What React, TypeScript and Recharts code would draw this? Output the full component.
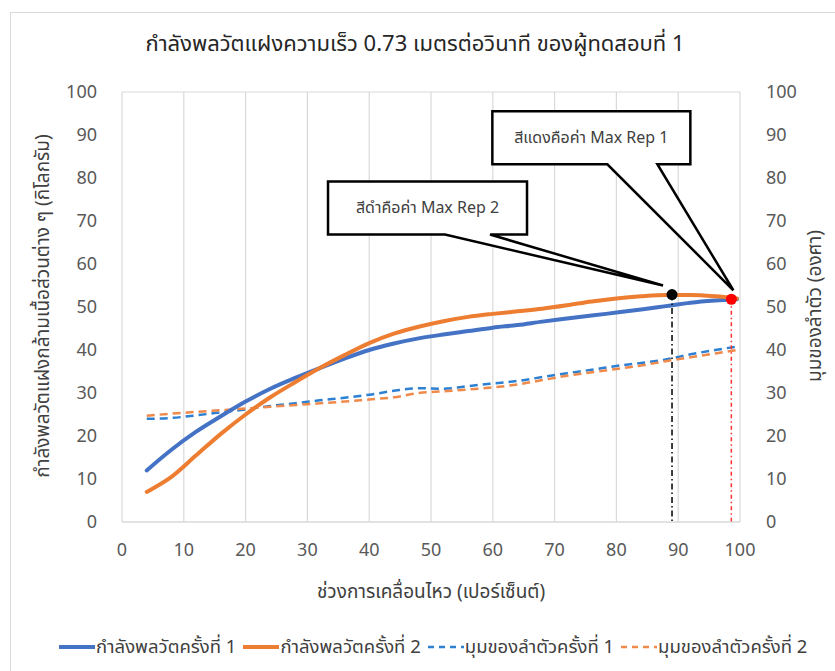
import {
  ComposedChart,
  Line,
  XAxis,
  YAxis,
  CartesianGrid,
  ReferenceDot,
  ReferenceLine,
} from "recharts";

// motion range (%) for each sampled point
const motionPct = [4, 8, 12, 16, 20, 24, 28, 32, 36, 40, 44, 48, 52, 56, 60, 64, 68, 72, 76, 80, 84, 88, 92, 96, 99.5];

// dynamic power (kg), left axis
const power1 = [12, 16.8, 21, 24.6, 28, 31, 33.5, 35.8, 38, 40, 41.5, 42.7, 43.6, 44.4, 45.2, 45.8, 46.6, 47.3, 48, 48.7, 49.4, 50.2, 51, 51.5, 51.8];
const power2 = [7, 10.5, 15.5, 20.5, 25, 29, 32.5, 35.8, 38.8, 41.6, 43.8, 45.4, 46.7, 47.7, 48.4, 49, 49.6, 50.4, 51.3, 52, 52.5, 52.8, 52.8, 52.5, 52];

// trunk angle (degrees), right axis
const angle1 = [24, 24.2, 24.8, 25.5, 26.2, 27, 27.6, 28.3, 28.9, 29.6, 30.5, 31.1, 31, 31.6, 32.2, 32.8, 33.7, 34.6, 35.4, 36.3, 37, 37.8, 39, 40, 40.8];
const angle2 = [24.7, 25.2, 25.6, 26, 26.4, 26.8, 27.2, 27.6, 28, 28.5, 29, 30, 30.4, 30.8, 31.3, 32, 33, 34, 34.8, 35.6, 36.4, 37.4, 38.3, 39.2, 40];

const ticks = [0, 10, 20, 30, 40, 50, 60, 70, 80, 90, 100];

// max rep markers
const maxRep1 = { x: 98.6, y: 51.8 };
const maxRep2 = { x: 89, y: 52.9 };

const data = motionPct.map((x, i) => ({
  x,
  power1: power1[i],
  power2: power2[i],
  angle1: angle1[i],
  angle2: angle2[i],
}));

const FONT = "Tahoma, 'Noto Sans Thai', 'Noto Sans', 'DejaVu Sans', sans-serif";
const TICK = { fill: "#595959", fontSize: 18, fontFamily: FONT };

// callout box + pointer drawn relative to the marker
function makeCallout(label: string, box: { l: number; r: number; t: number; b: number; p1: number; p2: number; tx: number; ty: number }, color: string) {
  return (props: any) => {
    const { cx, cy } = props;
    const pts = [
      [box.l, box.t],
      [box.r, box.t],
      [box.r, box.b],
      [box.p2, box.b],
      [box.tx, box.ty],
      [box.p1, box.b],
      [box.l, box.b],
    ]
      .map(([dx, dy]) => `${cx + dx},${cy + dy}`)
      .join(" ");
    return (
      <g>
        <polygon points={pts} fill="#fff" stroke="#000" strokeWidth={2.5} strokeLinejoin="miter" />
        <text
          x={cx + (box.l + box.r) / 2}
          y={cy + (box.t + box.b) / 2}
          textAnchor="middle"
          dominantBaseline="central"
          fill="#404040"
          fontSize={16}
          fontFamily={FONT}
        >
          {label}
        </text>
        <circle cx={cx} cy={cy} r={5.5} fill={color} />
      </g>
    );
  };
}

const legendItems = [
  { label: "กำลังพลวัตครั้งที่ 1", color: "#4472c4", dashed: false },
  { label: "กำลังพลวัตครั้งที่ 2", color: "#ed7d31", dashed: false },
  { label: "มุมของลำตัวครั้งที่ 1", color: "#2e80d2", dashed: true },
  { label: "มุมของลำตัวครั้งที่ 2", color: "#f08a4b", dashed: true },
];

export default function App() {
  return (
    <div style={{ position: "absolute", left: 0, top: 0, width: 835, height: 671, background: "#fff", fontFamily: FONT }}>
      {/* frame */}
      <div style={{ position: "absolute", left: 10, top: 12, right: 0, bottom: 0, borderLeft: "1px solid #d9d9d9", borderTop: "1px solid #d9d9d9" }} />

      <div style={{ position: "absolute", left: 0, width: 830, top: 28, textAlign: "center", fontSize: 22, color: "#262626" }}>
        กำลังพลวัตแฝงความเร็ว 0.73 เมตรต่อวินาที ของผู้ทดสอบที่ 1
      </div>

      <ComposedChart
        width={835}
        height={671}
        data={data}
        margin={{ top: 92, right: 0, left: 0, bottom: 119 }}
        style={{ position: "absolute", left: 0, top: 0 }}
      >
        <CartesianGrid stroke="#d9d9d9" strokeWidth={1.2} />
        <XAxis
          dataKey="x"
          type="number"
          domain={[0, 100]}
          ticks={ticks}
          height={30}
          tick={TICK}
          tickLine={false}
          tickSize={0}
          tickMargin={21}
          axisLine={{ stroke: "#d9d9d9" }}
          interval={0}
        />
        <YAxis
          yAxisId="left"
          type="number"
          domain={[0, 100]}
          ticks={ticks}
          width={122}
          tick={TICK}
          tickLine={false}
          tickSize={0}
          tickMargin={25}
          axisLine={false}
          interval={0}
        />
        <YAxis
          yAxisId="right"
          orientation="right"
          type="number"
          domain={[0, 100]}
          ticks={ticks}
          width={95}
          tick={{ ...TICK, textAnchor: "start" }}
          tickLine={false}
          tickSize={0}
          tickMargin={26}
          axisLine={false}
          interval={0}
        />

        <Line yAxisId="right" dataKey="angle1" type="monotone" stroke="#2e80d2" strokeWidth={2.5} strokeDasharray="8 5" dot={false} isAnimationActive={false} />
        <Line yAxisId="right" dataKey="angle2" type="monotone" stroke="#f08a4b" strokeWidth={2.5} strokeDasharray="8 5" dot={false} isAnimationActive={false} />
        <Line yAxisId="left" dataKey="power1" type="monotone" stroke="#4472c4" strokeWidth={4} strokeLinecap="round" dot={false} isAnimationActive={false} />
        <Line yAxisId="left" dataKey="power2" type="monotone" stroke="#ed7d31" strokeWidth={4} strokeLinecap="round" dot={false} isAnimationActive={false} />

        <ReferenceLine
          yAxisId="left"
          segment={[{ x: maxRep2.x, y: maxRep2.y }, { x: maxRep2.x, y: 0 }]}
          stroke="#000"
          strokeWidth={1.5}
          strokeDasharray="6 3 1.5 3"
        />
        <ReferenceLine
          yAxisId="left"
          segment={[{ x: maxRep1.x, y: maxRep1.y }, { x: maxRep1.x, y: 0 }]}
          stroke="#ff3030"
          strokeWidth={1.5}
          strokeDasharray="4 3 1.5 3"
        />

        <ReferenceDot
          yAxisId="left"
          x={maxRep2.x}
          y={maxRep2.y}
          r={5.5}
          shape={makeCallout("สีดำคือค่า Max Rep 2", { l: -344, r: -145, t: -113, b: -60, p1: -227, p2: -182, tx: -9, ty: -9 }, "#000")}
        />
        <ReferenceDot
          yAxisId="left"
          x={maxRep1.x}
          y={maxRep1.y}
          r={5.5}
          shape={makeCallout("สีแดงคือค่า Max Rep 1", { l: -239, r: -41, t: -188, b: -135, p1: -124, p2: -74, tx: 2, ty: -9 }, "#ff0000")}
        />
      </ComposedChart>

      {/* axis titles */}
      <div
        style={{
          position: "absolute",
          left: 43,
          top: 306,
          transform: "translate(-50%, -50%) rotate(-90deg)",
          whiteSpace: "nowrap",
          fontSize: 19,
          color: "#404040",
        }}
      >
        กำลังพลวัตแฝงกล้ามเนื้อส่วนต่าง ๆ (กิโลกรัม)
      </div>
      <div
        style={{
          position: "absolute",
          left: 815,
          top: 306,
          transform: "translate(-50%, -50%) rotate(-90deg)",
          whiteSpace: "nowrap",
          fontSize: 19,
          color: "#404040",
        }}
      >
        มุมของลำตัว (องศา)
      </div>
      <div style={{ position: "absolute", left: 0, width: 862, top: 578, textAlign: "center", fontSize: 19, color: "#404040" }}>
        ช่วงการเคลื่อนไหว (เปอร์เซ็นต์)
      </div>

      {/* legend */}
      <div style={{ position: "absolute", left: 58, top: 633, display: "flex", alignItems: "center", fontSize: 18.5, color: "#404040", whiteSpace: "nowrap" }}>
        {legendItems.map((it) => (
          <div key={it.label} style={{ display: "flex", alignItems: "center", marginRight: 6 }}>
            <svg width={38} height={10}>
              <line
                x1={1}
                x2={37}
                y1={5}
                y2={5}
                stroke={it.color}
                strokeWidth={it.dashed ? 2.5 : 4}
                strokeDasharray={it.dashed ? "6 5" : undefined}
              />
            </svg>
            <span>{it.label}</span>
          </div>
        ))}
      </div>
    </div>
  );
}
